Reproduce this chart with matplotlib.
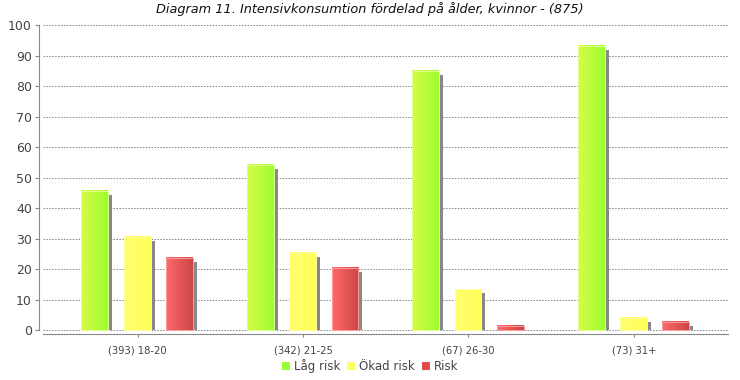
import numpy as np
import matplotlib
matplotlib.use("Agg")
import matplotlib.pyplot as plt
from matplotlib.patches import Rectangle
from matplotlib.colors import LinearSegmentedColormap

title = "Diagram 11. Intensivkonsumtion fördelad på ålder, kvinnor - (875)"
categories = ["(393) 18-20", "(342) 21-25", "(67) 26-30", "(73) 31+"]
series_names = ["Låg risk", "Ökad risk", "Risk"]
lag_risk = [45.8, 54.1, 85.1, 93.2]
okad_risk = [30.5, 25.4, 13.4, 4.1]
risk = [23.7, 20.5, 1.5, 2.7]
yticks = list(range(0, 101, 10))

series = [lag_risk, okad_risk, risk]
grad_colors = [("#d8fa48", "#9cff2e"), ("#ffff6e", "#ffff5a"), ("#ff6a6a", "#cc4646")]
edge_colors = ["#e4ff90", "#ffffa0", "#ff9a9a"]
legend_colors = ["#99ff33", "#ffff66", "#e04c4c"]

fig = plt.figure(figsize=(7.4, 3.8), dpi=100)
ax = fig.add_axes([0.058, 0.121, 0.926, 0.813])
ax.set_xlim(-0.572, 3.57)
ax.set_ylim(-1.2, 100)

for s in ["top", "right"]:
    ax.spines[s].set_visible(False)
ax.spines["left"].set_position(("outward", 3))
ax.spines["left"].set_bounds(0, 100)
ax.spines["left"].set_color("#888888")
ax.spines["bottom"].set_color("#888888")

ax.set_yticks(yticks)
ax.set_yticklabels([str(t) for t in yticks], fontsize=9, color="#444444")
ax.tick_params(axis="y", length=3, color="#888888", pad=2)
ax.set_xticks(range(len(categories)))
ax.set_xticklabels(categories, fontsize=7.2, color="#444444")
ax.tick_params(axis="x", length=2.5, color="#888888", pad=6)

ax.yaxis.grid(True, linestyle=(0, (1.6, 1.4)), color="#8a8a8a", linewidth=0.7)
ax.set_axisbelow(True)

offsets = [-0.258, -0.002, 0.254]
width = 0.162
dx = 4 / 166.0
dy = 4 / 3.053
grad = np.linspace(0, 1, 64).reshape(1, -1)
for si, vals in enumerate(series):
    cmap = LinearSegmentedColormap.from_list("g%d" % si, list(grad_colors[si]))
    for i, v in enumerate(vals):
        x0 = i + offsets[si] - width / 2
        # shadow
        ax.add_patch(Rectangle((x0 + dx, 0), width, max(v - dy, 0), facecolor="#888888",
                               edgecolor="none", zorder=2))
        ax.imshow(grad, cmap=cmap, extent=[x0, x0 + width, 0, v], aspect="auto",
                  zorder=3, interpolation="bilinear")
        ax.add_patch(Rectangle((x0, 0), width, v, facecolor="none",
                               edgecolor=edge_colors[si], linewidth=0.7, zorder=4))
ax.set_xlim(-0.572, 3.57)
ax.set_ylim(-1.2, 100)

fig.suptitle(title, fontsize=9.3, style="italic", y=0.995, color="#111111")

handles = [Rectangle((0, 0), 1, 1, facecolor=c, edgecolor="none") for c in legend_colors]
fig.legend(handles, series_names, loc="lower center", ncol=3, frameon=False,
           fontsize=8.5, bbox_to_anchor=(0.5, -0.01), handlelength=0.7, handleheight=0.7,
           handletextpad=0.3, columnspacing=0.6, labelcolor="#444444")

fig.savefig("out.png", dpi=100)
